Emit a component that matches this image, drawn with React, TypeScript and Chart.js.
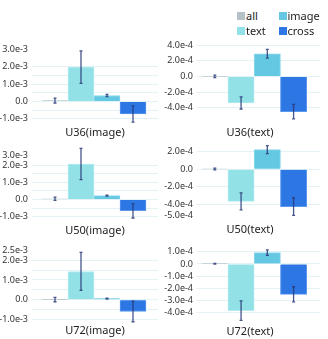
import React, { useEffect, useRef } from 'react';
import { Chart, registerables } from 'chart.js';

Chart.register(...registerables);

// ---------- data ----------
const CATEGORIES = ['all', 'text', 'image', 'cross'];
const COLORS = ['#b5c1c5', '#91e1e6', '#64c8e3', '#2c77e4'];
const BORDER_COLORS = ['#c8d2d5', '#b2ecef', '#8ad7ec', '#5a98ec'];

const U36_IMAGE_VALUES = [0.05e-3, 1.98e-3, 0.34e-3, -0.73e-3];
const U36_IMAGE_ERRORS = [0.14e-3, 0.94e-3, 0.06e-3, 0.47e-3];
const U36_IMAGE_TICKS = [3.0e-3, 2.0e-3, 1.0e-3, 0, -1.0e-3];
const U36_IMAGE_TICK_LABELS = ['3.0e-3', '2.0e-3', '1.0e-3', '0.0', '-1.0e-3'];

const U36_TEXT_VALUES = [0.01e-4, -3.38e-4, 2.9e-4, -4.5e-4];
const U36_TEXT_ERRORS = [0.15e-4, 0.78e-4, 0.55e-4, 0.92e-4];
const U36_TEXT_TICKS = [4.0e-4, 2.0e-4, 0, -2.0e-4, -4.0e-4];
const U36_TEXT_TICK_LABELS = ['4.0e-4', '2.0e-4', '0.0', '-2.0e-4', '-4.0e-4'];

const U50_IMAGE_VALUES = [0.04e-3, 2.06e-3, 0.22e-3, -0.66e-3];
const U50_IMAGE_ERRORS = [0.1e-3, 0.91e-3, 0.03e-3, 0.42e-3];
const U50_IMAGE_TICKS = [2.57e-3, 2.0e-3, 1.0e-3, 0, -1.0e-3];
const U50_IMAGE_TICK_LABELS = ['3.0e-3', '2.0e-3', '1.0e-3', '0.0', '-1.0e-3'];

const U50_TEXT_VALUES = [0.03e-4, -3.63e-4, 2.21e-4, -4.22e-4];
const U50_TEXT_ERRORS = [0.1e-4, 0.96e-4, 0.45e-4, 1.0e-4];
const U50_TEXT_TICKS = [2.0e-4, 0, -2.0e-4, -4.0e-4, -5.2e-4];
const U50_TEXT_TICK_LABELS = ['2.0e-4', '0.0', '-2.0e-4', '-4.0e-4', '-5.0e-4'];

const U72_IMAGE_VALUES = [0.01e-3, 1.43e-3, 0.06e-3, -0.59e-3];
const U72_IMAGE_ERRORS = [0.11e-3, 0.96e-3, 0.02e-3, 0.52e-3];
const U72_IMAGE_TICKS = [2.5e-3, 2.0e-3, 1.0e-3, 0, -1.0e-3];
const U72_IMAGE_TICK_LABELS = ['2.5e-3', '2.0e-3', '1.0e-3', '0.0', '-1.0e-3'];

const U72_TEXT_VALUES = [0.02e-4, -3.87e-4, 0.94e-4, -2.52e-4];
const U72_TEXT_ERRORS = [0.03e-4, 0.81e-4, 0.22e-4, 0.63e-4];
const U72_TEXT_TICKS = [1.0e-4, 0, -1.0e-4, -2.0e-4, -3.0e-4, -4.0e-4];
const U72_TEXT_TICK_LABELS = ['1.0e-4', '0.0', '-1.0e-4', '-2.0e-4', '-3.0e-4', '-4.0e-4'];

const IMAGE_GRID = [-1.0e-3, -0.5e-3, 0, 0.5e-3, 1.0e-3, 1.5e-3, 2.0e-3];
const U36_TEXT_GRID = [4.0e-4, 2.0e-4, 0, -2.0e-4, -4.0e-4];
const U50_TEXT_GRID = [2.0e-4, 0, -2.0e-4, -4.0e-4];
const U72_TEXT_GRID = [1.0e-4, 0, -1.0e-4, -2.0e-4, -3.0e-4, -4.0e-4];

const TITLES = ['U36(image)', 'U36(text)', 'U50(image)', 'U50(text)', 'U72(image)', 'U72(text)'];

// ---------- layout (pixels) ----------
const COLS = [
  { x: 0, w: 164, chartLeft: 32, chartRight: 158, barStart: 42, barW: 26 },
  { x: 164, w: 164, chartLeft: 197, chartRight: 320, barStart: 201.7, barW: 26.25 },
];

const PANELS = [
  { col: 0, top: 44, bottom: 126, zero: 102, pxPerUnit: 17.9e3, values: U36_IMAGE_VALUES, errors: U36_IMAGE_ERRORS, ticks: U36_IMAGE_TICKS, labels: U36_IMAGE_TICK_LABELS, grid: IMAGE_GRID, title: TITLES[0], titleX: 95, titleY: 132 },
  { col: 1, top: 40, bottom: 122, zero: 76.3, pxPerUnit: 8.1e4, values: U36_TEXT_VALUES, errors: U36_TEXT_ERRORS, ticks: U36_TEXT_TICKS, labels: U36_TEXT_TICK_LABELS, grid: U36_TEXT_GRID, title: TITLES[1], titleX: 250, titleY: 132 },
  { col: 0, top: 144, bottom: 224, zero: 200, pxPerUnit: 17.8e3, values: U50_IMAGE_VALUES, errors: U50_IMAGE_ERRORS, ticks: U50_IMAGE_TICKS, labels: U50_IMAGE_TICK_LABELS, grid: IMAGE_GRID, title: TITLES[2], titleX: 95, titleY: 230 },
  { col: 1, top: 140, bottom: 222, zero: 168.8, pxPerUnit: 9.17e4, values: U50_TEXT_VALUES, errors: U50_TEXT_ERRORS, ticks: U50_TEXT_TICKS, labels: U50_TEXT_TICK_LABELS, grid: U50_TEXT_GRID, title: TITLES[3], titleX: 250, titleY: 228.5 },
  { col: 0, top: 244, bottom: 326, zero: 300.3, pxPerUnit: 20.5e3, values: U72_IMAGE_VALUES, errors: U72_IMAGE_ERRORS, ticks: U72_IMAGE_TICKS, labels: U72_IMAGE_TICK_LABELS, grid: IMAGE_GRID, title: TITLES[4], titleX: 95, titleY: 330 },
  { col: 1, top: 244, bottom: 326, zero: 263.2, pxPerUnit: 12.5e4, values: U72_TEXT_VALUES, errors: U72_TEXT_ERRORS, ticks: U72_TEXT_TICKS, labels: U72_TEXT_TICK_LABELS, grid: U72_TEXT_GRID, title: TITLES[5], titleX: 250, titleY: 331 },
];

const FONT = "'Noto Sans', 'Open Sans', sans-serif";
const GRID_COLOR = '#e3f2f4';
const ERR_COLOR = 'rgba(40,55,120,0.85)';
const PAD = 8;

const near = (a: number, b: number) => Math.abs(a - b) < 1e-9;

const errorBarPlugin = {
  id: 'errorBars',
  afterDatasetsDraw(chart: any) {
    const ds: any = chart.data.datasets[0];
    const errs: number[] = ds.errors || [];
    const meta = chart.getDatasetMeta(0);
    const ys = chart.scales.y;
    const ctx = chart.ctx;
    ctx.save();
    ctx.strokeStyle = ERR_COLOR;
    ctx.lineWidth = 1.3;
    meta.data.forEach((bar: any, i: number) => {
      const v = ds.data[i].y;
      const e = errs[i];
      const x = bar.x;
      const t = ys.getPixelForValue(v + e);
      const b = ys.getPixelForValue(v - e);
      ctx.beginPath();
      ctx.moveTo(x, t);
      ctx.lineTo(x, b);
      ctx.moveTo(x - 1.5, t);
      ctx.lineTo(x + 1.5, t);
      ctx.moveTo(x - 1.5, b);
      ctx.lineTo(x + 1.5, b);
      ctx.stroke();
    });
    ctx.restore();
  },
};

function Panel({ p }: { p: any }) {
  const ref = useRef<HTMLCanvasElement | null>(null);
  const col = COLS[p.col];
  const height = p.bottom - p.top + PAD * 2;

  useEffect(() => {
    if (!ref.current) return;
    const yMax = (p.zero - p.top) / p.pxPerUnit;
    const yMin = -(p.bottom - p.zero) / p.pxPerUnit;
    const c0 = col.barStart + col.barW / 2;
    const xMin = (col.chartLeft - c0) / col.barW;
    const xMax = (col.chartRight - c0) / col.barW;
    const allTicks: number[] = [];
    [...p.ticks, ...p.grid].forEach((v: number) => {
      if (!allTicks.some((t) => near(t, v))) allTicks.push(v);
    });
    allTicks.sort((a, b) => a - b);

    const chart = new Chart(ref.current, {
      type: 'bar',
      data: {
        datasets: [
          {
            label: 'values',
            data: p.values.map((v: number, i: number) => ({ x: i, y: v })),
            backgroundColor: COLORS,
            borderColor: BORDER_COLORS,
            borderWidth: 1,
            barPercentage: 1,
            categoryPercentage: 1,
            errors: p.errors,
          } as any,
        ],
      },
      options: {
        animation: false,
        responsive: false,
        maintainAspectRatio: false,
        devicePixelRatio: 1,
        layout: { padding: { top: PAD, bottom: PAD, left: 0, right: col.x + col.w - col.chartRight } },
        plugins: { legend: { display: false }, tooltip: { enabled: false }, title: { display: false } },
        scales: {
          x: {
            type: 'linear',
            display: false,
            min: xMin,
            max: xMax,
            offset: false,
            grid: { display: false, offset: false },
          },
          y: {
            type: 'linear',
            min: yMin,
            max: yMax,
            border: { display: false },
            afterFit: (scale: any) => {
              scale.width = col.chartLeft - col.x;
            },
            afterBuildTicks: (scale: any) => {
              scale.ticks = allTicks.map((v) => ({ value: v }));
            },
            grid: {
              drawTicks: false,
              lineWidth: 1,
              color: (ctx: any) =>
                ctx.tick && p.grid.some((g: number) => near(g, ctx.tick.value)) ? GRID_COLOR : 'rgba(0,0,0,0)',
            },
            ticks: {
              autoSkip: false,
              padding: 4,
              color: '#333',
              font: { family: FONT, size: 9 },
              callback: (value: any) => {
                const idx = p.ticks.findIndex((t: number) => near(t, Number(value)));
                return idx >= 0 ? p.labels[idx] : '';
              },
            },
          },
        },
      } as any,
      plugins: [errorBarPlugin],
    });
    return () => chart.destroy();
  }, []);

  return (
    <canvas
      ref={ref}
      width={col.w}
      height={height}
      style={{ position: 'absolute', left: col.x, top: p.top - PAD, width: col.w, height }}
    />
  );
}

const LEGEND_ITEMS = [
  { name: CATEGORIES[0], color: COLORS[0], x: 237, y: 16 },
  { name: CATEGORIES[2], color: COLORS[2], x: 278.5, y: 16 },
  { name: CATEGORIES[1], color: COLORS[1], x: 237, y: 31 },
  { name: CATEGORIES[3], color: COLORS[3], x: 278.5, y: 31 },
];

export default function App() {
  return (
    <div style={{ position: 'fixed', left: 0, top: 0, width: 328, height: 339, background: '#fff', fontFamily: FONT }}>
      {PANELS.map((p, i) => (
        <Panel key={i} p={p} />
      ))}
      {PANELS.map((p, i) => (
        <div
          key={'t' + i}
          style={{
            position: 'absolute',
            left: p.titleX,
            top: p.titleY,
            transform: 'translate(-50%, -50%)',
            fontSize: 11,
            color: '#222',
            whiteSpace: 'nowrap',
            lineHeight: '14px',
          }}
        >
          {p.title}
        </div>
      ))}
      {LEGEND_ITEMS.map((it) => (
        <div
          key={it.name}
          style={{ position: 'absolute', left: it.x, top: it.y - 7, height: 14, display: 'flex', alignItems: 'center', whiteSpace: 'nowrap' }}
        >
          <span style={{ display: 'inline-block', width: 8, height: 8, background: it.color, marginRight: 1 }} />
          <span style={{ fontSize: 11, color: '#222', lineHeight: '14px' }}>{it.name}</span>
        </div>
      ))}
    </div>
  );
}
